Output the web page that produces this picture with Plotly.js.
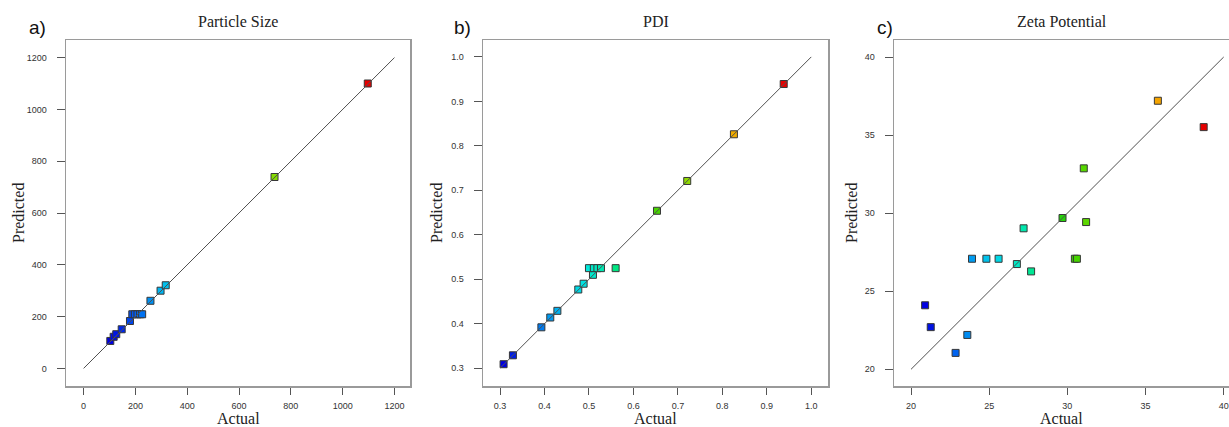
<!DOCTYPE html>
<html>
<head>
<meta charset="utf-8">
<script src="https://cdn.plot.ly/plotly-3.0.1.min.js"></script>
<style>html,body{margin:0;padding:0;background:#fff;}#chart{width:1229px;height:427px;}</style>
</head>
<body>
<div id="chart"></div>
<script>
// ---- Data ----
const panelTitles = ["Particle Size", "PDI", "Zeta Potential"];
const panelLabels = ["a)", "b)", "c)"];

const sizeActual = [103, 116, 126, 147, 179, 188, 198, 208, 218, 226, 258, 297, 317, 737, 1097];
const sizePredicted = [106, 122, 132, 151, 183, 209, 209, 209, 209, 209, 261, 300, 321, 739, 1100];

const pdiActual = [0.308, 0.329, 0.393, 0.413, 0.429, 0.476, 0.488, 0.509, 0.500, 0.511, 0.519, 0.527, 0.560, 0.653, 0.721, 0.826, 0.938];
const pdiPredicted = [0.309, 0.329, 0.392, 0.414, 0.429, 0.477, 0.490, 0.510, 0.525, 0.525, 0.525, 0.525, 0.525, 0.654, 0.721, 0.826, 0.939];

const zetaActual = [20.9, 21.26, 22.85, 23.6, 23.9, 24.82, 25.6, 26.77, 27.2, 27.68, 29.69, 30.48, 30.61, 31.05, 31.2, 35.79, 38.72];
const zetaPredicted = [24.1, 22.7, 21.05, 22.2, 27.08, 27.08, 27.08, 26.74, 29.03, 26.27, 29.69, 27.08, 27.08, 32.87, 29.43, 37.2, 35.51];

const diagSize = [0, 1200];
const diagPdi = [0.3, 1.0];
const diagZeta = [20, 40];

// ---- Styling ----
const W = 1229, H = 427;
const colorscale = [
  [0, 'rgb(0,0,225)'], [0.1, 'rgb(0,90,240)'], [0.2, 'rgb(0,185,240)'],
  [0.3, 'rgb(0,232,222)'], [0.4, 'rgb(0,230,130)'], [0.5, 'rgb(40,210,0)'],
  [0.65, 'rgb(140,220,0)'], [0.83, 'rgb(245,170,0)'], [1, 'rgb(230,0,0)']
];
function pts(x, y, xa, ya) {
  return {
    type: 'scatter', mode: 'markers', x: x, y: y, xaxis: xa, yaxis: ya,
    marker: {
      symbol: 'square', size: 7, color: x, colorscale: colorscale,
      cmin: Math.min(...x), cmax: Math.max(...x), showscale: false,
      line: {color: 'rgb(55,55,55)', width: 1}
    },
    hoverinfo: 'x+y', showlegend: false
  };
}
function diag(d, xa, ya) {
  return {type: 'scatter', mode: 'lines', x: d, y: d, xaxis: xa, yaxis: ya,
    line: {color: 'rgb(80,80,80)', width: 1}, hoverinfo: 'skip', showlegend: false};
}
const data = [
  pts(sizeActual, sizePredicted, 'x', 'y'), diag(diagSize, 'x', 'y'),
  pts(pdiActual, pdiPredicted, 'x2', 'y2'), diag(diagPdi, 'x2', 'y2'),
  pts(zetaActual, zetaPredicted, 'x3', 'y3'), diag(diagZeta, 'x3', 'y3')
];

const tickFont = {family: 'Liberation Sans, Arial, sans-serif', size: 9, color: '#333'};
function xax(domain, range, dtick, fmt, anchor) {
  return {domain: domain, range: range, dtick: dtick, tick0: 0, tickformat: fmt, anchor: anchor,
    showgrid: false, zeroline: false, showline: true, mirror: true, linecolor: '#9a9a9a', linewidth: 1.5,
    ticks: 'outside', ticklen: 7, tickcolor: '#555', tickwidth: 1, tickfont: tickFont, ticklabelstandoff: 4};
}
function yax(domain, range, dtick, fmt, anchor, mirror) {
  return {domain: domain, range: range, dtick: dtick, tick0: 0, tickformat: fmt, anchor: anchor,
    showgrid: false, zeroline: false, showline: true, mirror: mirror, linecolor: '#9a9a9a', linewidth: 1.5,
    ticks: 'outside', ticklen: 8, tickcolor: '#555', tickwidth: 1, tickfont: tickFont, ticklabelstandoff: 8};
}
const yd = [(H - 386) / H, (H - 40) / H];
const dA = [66 / W, 410 / W], dB = [483 / W, 828 / W], dC = [894 / W, 1];

const serif = 'Liberation Serif, Times New Roman, serif';
const annotations = [];
const centers = [(66 + 410) / 2, (483 + 828) / 2, (894 + 1229) / 2];
const labelX = [37, 462, 885];
const predX = [18, 436, 851];
for (let i = 0; i < 3; i++) {
  annotations.push({xref: 'paper', yref: 'paper', x: centers[i] / W, y: (H - 22) / H, text: panelTitles[i],
    showarrow: false, xanchor: 'center', yanchor: 'middle', font: {family: serif, size: 16, color: '#222'}});
  annotations.push({xref: 'paper', yref: 'paper', x: labelX[i] / W, y: (H - 28) / H, text: panelLabels[i],
    showarrow: false, xanchor: 'center', yanchor: 'middle', font: {family: 'Liberation Sans, Arial, sans-serif', size: 19, color: '#111'}});
  annotations.push({xref: 'paper', yref: 'paper', x: centers[i] / W, y: (H - 418) / H, text: 'Actual',
    showarrow: false, xanchor: 'center', yanchor: 'middle', font: {family: serif, size: 16, color: '#222'}});
  annotations.push({xref: 'paper', yref: 'paper', x: predX[i] / W, y: (H - 213) / H, text: 'Predicted', textangle: -90,
    showarrow: false, xanchor: 'center', yanchor: 'middle', font: {family: serif, size: 16, color: '#222'}});
}

const layout = {
  width: W, height: H, margin: {l: 0, r: 0, t: 0, b: 0},
  paper_bgcolor: '#fff', plot_bgcolor: '#fff', showlegend: false,
  xaxis: xax(dA, [-68, 1260], 200, 'd', 'y'),
  yaxis: yax(yd, [-68, 1268], 200, 'd', 'x', true),
  xaxis2: xax(dB, [0.2617, 1.0376], 0.1, '.1f', 'y2'),
  yaxis2: yax(yd, [0.26, 1.038], 0.1, '.1f', 'x2', true),
  xaxis3: xax(dC, [18.91, 40.34], 5, 'd', 'y3'),
  yaxis3: yax(yd, [18.93, 41.09], 5, 'd', 'x3', false),
  annotations: annotations
};
Plotly.newPlot('chart', data, layout, {displayModeBar: false, staticPlot: true});
</script>
</body>
</html>
